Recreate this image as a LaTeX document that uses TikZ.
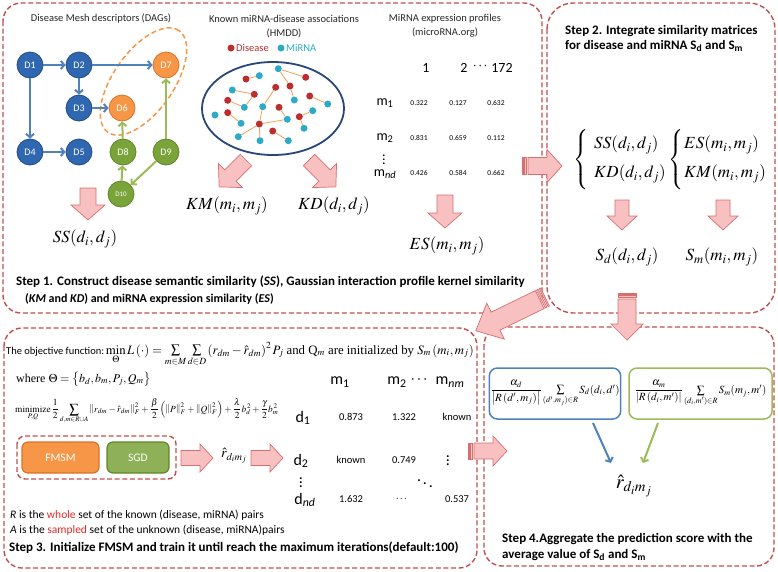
\documentclass[tikz,border=0pt]{standalone}
\usepackage{amsmath}
\usepackage{mathptmx}
\usepackage[no-math]{fontspec}
\setmainfont{Carlito}
\newfontfamily\tnr{Liberation Serif}
\usetikzlibrary{arrows.meta}
\definecolor{pred}{RGB}{192,80,77}
\definecolor{nblue}{RGB}{47,104,177}
\definecolor{nblueb}{RGB}{35,75,130}
\definecolor{norange}{RGB}{247,150,70}
\definecolor{noranged}{RGB}{215,115,45}
\definecolor{ngreen}{RGB}{122,163,58}
\definecolor{ngreend}{RGB}{95,135,40}
\definecolor{ablue}{RGB}{79,129,189}
\definecolor{agreen}{RGB}{155,187,89}
\definecolor{pinkf}{RGB}{248,192,192}
\definecolor{pinkd}{RGB}{214,112,112}
\definecolor{netred}{RGB}{190,45,45}
\definecolor{netteal}{RGB}{45,170,200}
\definecolor{netline}{RGB}{243,160,85}
\definecolor{netell}{RGB}{40,70,120}
\definecolor{wred}{RGB}{225,40,40}
\tikzset{
  panel/.style={draw=pred, dash pattern=on 5pt off 2.6pt, line width=1.4pt, rounded corners=18pt},
  ttl/.style={font=\fontsize{10.5}{12}\selectfont, text=black!85, inner sep=0pt},
  stp/.style={font=\bfseries\fontsize{13}{15}\selectfont, inner sep=0pt, anchor=west},
  mth/.style={font=\fontsize{17}{20}\selectfont, inner sep=0pt},
  dnode/.style={circle, minimum size=26pt, inner sep=0pt, text=white, font=\fontsize{10}{12}\selectfont, line width=0.8pt},
  dblue/.style={dnode, fill=nblue, draw=nblueb},
  dorange/.style={dnode, fill=norange, draw=noranged},
  dgreen/.style={dnode, fill=ngreen, draw=ngreend},
  barr/.style={draw=ablue, line width=2pt, -{Straight Barb[length=3.5pt,width=8pt]}},
  garr/.style={draw=agreen, line width=2pt, -{Straight Barb[length=3.5pt,width=8pt]}},
  ndot/.style={circle, minimum size=7pt, inner sep=0pt},
  rdot/.style={ndot, fill=netred},
  tdot/.style={ndot, fill=netteal},
  nl/.style={draw=netline, line width=0.8pt},
  hdr/.style={font=\fontsize{14}{16}\selectfont, inner sep=0pt},
  val/.style={font=\fontsize{7.5}{9}\selectfont, inner sep=0pt},
  big/.style={font=\fontsize{16}{18}\selectfont, inner sep=0pt},
  val3/.style={font=\fontsize{10.5}{12}\selectfont, inner sep=0pt},
  note/.style={anchor=west, inner sep=0pt, font=\fontsize{11.5}{13}\selectfont},
  pinkarr/.style={fill=pinkf, draw=pinkd, line width=0.7pt, line join=miter},
  pics/fatarr/.style n args={4}{code={
    \draw[pinkarr] (0,-#2) -- ({#1-#4},-#2) -- ({#1-#4},-#3) -- (#1,0) -- ({#1-#4},#3) -- ({#1-#4},#2) -- (0,#2) -- cycle;}},
  pics/striparr/.style n args={4}{code={
    \draw[pinkarr] (0,-#2) rectangle (1.5,#2);
    \draw[pinkarr] (2.8,-#2) rectangle (4.6,#2);
    \draw[pinkarr] (5.9,-#2) -- ({#1-#4},-#2) -- ({#1-#4},-#3) -- (#1,0) -- ({#1-#4},#3) -- ({#1-#4},#2) -- (5.9,#2) -- cycle;}},
  fbox/.style={rounded corners=6pt, line width=1.2pt, minimum width=77pt, minimum height=31pt, text=white, font=\fontsize{11.5}{13}\selectfont},
  sbox/.style={rounded corners=8pt, line width=1.5pt, fill=white, inner sep=1pt, font=\fontsize{11}{13}\selectfont},
}
\begin{document}
\begin{tikzpicture}[x=1pt,y=-1pt]
\useasboundingbox (0,0) rectangle (778,571);
% panels
\draw[panel] (3,3) rectangle (542,313);
\draw[panel, rounded corners=26pt] (547,3) rectangle (775,313);
\draw[panel] (4,328) rectangle (477,568);
\draw[panel] (484,327) rectangle (774,566);

% ---------- Panel 1 ----------
\node[ttl] (t1) at (101,19) {Disease Mesh descriptors (DAGs)};
\node[ttl] (t2) at (284,19) {Known miRNA-disease associations};
\node[ttl] (t2b) at (284,33) {(HMDD)};
\node[ttl] (t3) at (445,19) {MiRNA expression profiles};
\node[ttl] (t3b) at (445,33) {(microRNA.org)};

% DAG
\draw[draw=norange, line width=1.5pt, dash pattern=on 5pt off 3pt, rotate around={55:(143.5,81.5)}] (143.5,81.5) ellipse [x radius=62pt, y radius=30pt];
\node[dblue] (D1) at (30,65) {D1};
\node[dblue] (D2) at (79,65) {D2};
\node[dorange] (D7) at (166,65) {D7};
\node[dblue] (D3) at (79,108) {D3};
\node[dorange] (D6) at (122,108) {D6};
\node[dblue] (D4) at (30,152) {D4};
\node[dblue] (D5) at (79,152) {D5};
\node[dgreen] (D8) at (123,152) {D8};
\node[dgreen] (D9) at (166,152) {D9};
\node[dgreen, font=\fontsize{7}{8}\selectfont] (D10) at (121,194) {D10};
\draw[barr] (D1) -- (D2);
\draw[barr] (D1) -- (D4);
\draw[barr] (D2) -- (D3);
\draw[barr] (D2) -- (D7);
\draw[barr] (D3) -- (D6);
\draw[barr] (D4) -- (D5);
\draw[garr] (D8) -- (D6);
\draw[garr] (D9) -- (D7);
\draw[garr] (D10) -- (D8);
\draw[garr] (D9) -- (D10);

% legend
\node[rdot] (lg1) at (231,48) {};
\node[anchor=west, inner sep=0pt, text=netred, font=\fontsize{10.5}{12}\selectfont] (lg1t) at (236,48) {Disease};
\node[tdot] (lg2) at (281,48) {};
\node[anchor=west, inner sep=0pt, text=netteal, font=\fontsize{10.5}{12}\selectfont] (lg2t) at (286,48) {MiRNA};

% network
\draw[draw=netell, line width=1.8pt] (273,108.5) ellipse [x radius=71pt, y radius=46.5pt];
\node[rdot] (r1) at (246,79) {};
\node[rdot] (r2) at (305.7,77.3) {};
\node[rdot] (r3) at (254.3,94.3) {};
\node[rdot] (r4) at (275.7,87.3) {};
\node[rdot] (r5) at (290,86) {};
\node[rdot] (r6) at (227.7,100.3) {};
\node[rdot] (r7) at (279,107.3) {};
\node[rdot] (r8) at (309.7,96) {};
\node[rdot] (r9) at (227.7,112.7) {};
\node[rdot] (r10) at (259.3,124) {};
\node[rdot] (r11) at (299.3,116.7) {};
\node[rdot] (r12) at (272.7,131) {};
\node[tdot] (c1) at (259.3,75.7) {};
\node[tdot] (c2) at (278.3,68.7) {};
\node[tdot] (c3) at (232.3,90) {};
\node[tdot] (c4) at (294.3,100) {};
\node[tdot] (c5) at (244.3,107.3) {};
\node[tdot] (c6) at (262.7,106.7) {};
\node[tdot] (c7) at (215,115) {};
\node[tdot] (c8) at (241,123.3) {};
\node[tdot] (c9) at (287.3,119.3) {};
\node[tdot] (c10) at (312.7,110.7) {};
\node[tdot] (c11) at (327.7,104) {};
\node[tdot] (c12) at (304,128.3) {};
\node[tdot] (c13) at (238.3,136.7) {};
\node[tdot] (c14) at (260,140.7) {};
\node[tdot] (c15) at (288.3,140.7) {};
\draw[nl] (r1) -- (c1);
\draw[nl] (c2) -- (r5);
\draw[nl] (c2) -- (r2);
\draw[nl] (c3) -- (r3);
\draw[nl] (r3) -- (c5);
\draw[nl] (r4) -- (c6);
\draw[nl] (r5) -- (c4);
\draw[nl] (r6) -- (c5);
\draw[nl] (r8) -- (c11);
\draw[nl] (r9) -- (c8);
\draw[nl] (r10) -- (c6);
\draw[nl] (r10) -- (c9);
\draw[nl] (r10) -- (c13);
\draw[nl] (r10) -- (c14);
\draw[nl] (r11) -- (c10);
\draw[nl] (r11) -- (c12);
\draw[nl] (r12) -- (c15);
\draw[nl] (r7) -- (c9);

% expression matrix
\node[hdr] (h1) at (426,68) {1};
\node[hdr] (h2) at (464,68) {2};
\node[hdr] (hd) at (481,66) {$\cdots$};
\node[hdr] (h3) at (502,68) {172};
\node[hdr] (m1) at (385,103) {m\textsubscript{1}};
\node[hdr] (m2) at (385,138) {m\textsubscript{2}};
\node[hdr] (mv) at (384,157) {$\vdots$};
\node[hdr] (mn) at (385,174) {m\textsubscript{\textit{nd}}};
\node[val] at (419,103) {0.322};
\node[val] at (458,103) {0.127};
\node[val] at (496,103) {0.632};
\node[val] at (419,138) {0.831};
\node[val] at (458,138) {0.659};
\node[val] at (496,138) {0.112};
\node[val] at (419,173) {0.426};
\node[val] at (458,173) {0.584};
\node[val] at (496,173) {0.662};

% pink arrows panel 1
\pic[rotate=-90] at (88,188) {fatarr={32}{8}{17}{15}};
\pic[rotate=-135] at (246,160) {fatarr={38}{8}{17}{16}};
\pic[rotate=-45] at (309,160) {fatarr={38}{8}{17}{16}};
\pic[rotate=-90] at (445,195) {fatarr={33}{8}{17}{15}};
\node[mth] (ss1) at (85,239) {$SS(d_i,d_j)$};
\node[mth] (km1) at (227,206) {$KM(m_i,m_j)$};
\node[mth] (kd1) at (334,206) {$KD(d_i,d_j)$};
\node[mth] (es1) at (447,246) {$ES(m_i,m_j)$};

\node[stp] (s1a) at (16,282) {Step 1. Construct disease semantic similarity (\textit{SS}), Gaussian interaction profile kernel similarity};
\node[stp, font=\bfseries\fontsize{12}{14}\selectfont] (s1b) at (25,299) {(\textit{KM} and \textit{KD}) and miRNA expression similarity (\textit{ES})};

% ---------- Panel 2 ----------
\node[stp] (s2a) at (565,31) {Step 2. Integrate similarity matrices};
\node[stp] (s2b) at (565,46) {for disease and miRNA S\textsubscript{d} and S\textsubscript{m}};
\node[mth] (br1) at (582,160) {$\left\{\vrule height 27pt depth 27pt width 0pt\right.$};
\node[mth] (br2) at (677,160) {$\left\{\vrule height 27pt depth 27pt width 0pt\right.$};
\node[mth, anchor=west] (ss2) at (594,145) {$SS(d_i,d_j)$};
\node[mth, anchor=west] (kd2) at (594,174) {$KD(d_i,d_j)$};
\node[mth, anchor=west] (es2) at (684,145) {$ES(m_i,m_j)$};
\node[mth, anchor=west] (km2) at (684,174) {$KM(m_i,m_j)$};
\pic[rotate=-90] at (622,200) {fatarr={30}{7}{15}{14}};
\pic[rotate=-90] at (723,200) {fatarr={30}{7}{15}{14}};
\node[mth] (sd2) at (627,257) {$S_d(d_i,d_j)$};
\node[mth] (sm2) at (722,257) {$S_m(m_i,m_j)$};

% ---------- Panel 3 ----------
\node[anchor=base west, inner sep=0pt] (obj) at (6,354) {\fontsize{10.5}{12}\selectfont The objective function:\,\fontsize{12.8}{14}\selectfont$\min\limits_{\Theta}L\left(\cdot\right)=\sum\limits_{m\in M}\sum\limits_{d\in D}\left(r_{dm}-\hat{r}_{dm}\right)^{2}P_j$ {\tnr and Q$_m$ are initialized by }$S_m\left(m_i,m_j\right)$};
\node[anchor=base west, inner sep=0pt, font=\fontsize{12}{14}\selectfont] (whr) at (16,382) {\tnr where $\Theta=\left\{b_d,b_m,P_j,Q_m\right\}$};
\node[anchor=base west, inner sep=0pt, font=\fontsize{9.4}{11}\selectfont] (mnz) at (15,412) {$\displaystyle\mathop{\mathrm{minimize}}\limits_{P,Q}\frac{1}{2}\sum\limits_{d,m\in R\cup A}\left\|r_{dm}-\hat{r}_{dm}\right\|_F^2+\frac{\beta}{2}\left(\left\|P\right\|_F^2+\left\|Q\right\|_F^2\right)+\frac{\lambda}{2}b_d^{\,2}+\frac{\gamma}{2}b_m^{\,2}$};

% matrix
\node[big] (mm1) at (340,382) {m\textsubscript{1}};
\node[big] (mm2) at (397,382) {m\textsubscript{2}};
\node[big] (mmd) at (420,380) {$\cdots$};
\node[big] (mmn) at (450,382) {m\textsubscript{\textit{nm}}};
\node[big] (dd1) at (303,418) {d\textsubscript{1}};
\node[big] (dd2) at (301,461) {d\textsubscript{2}};
\node[big] (ddv) at (301,480) {$\vdots$};
\node[big] (ddn) at (305,500) {d\textsubscript{\textit{nd}}};
\node[val3] at (351,417) {0.873};
\node[val3] at (404,417) {1.322};
\node[val3] at (457,417) {known};
\node[val3] at (351,460) {known};
\node[val3] at (404,460) {0.749};
\node[big] at (448,458) {$\vdots$};
\node[big] at (425,481) {$\ddots$};
\node[val3] at (351,499) {1.632};
\node[val3] at (402,499) {$\cdots$};
\node[val3] at (457,499) {0.537};

% FMSM / SGD
\draw[draw=pred, dash pattern=on 5pt off 2.6pt, line width=1.4pt, rounded corners=8pt] (17,436) rectangle (176,479);
\node[fbox, fill=norange, draw=noranged] (fmsm) at (60.5,457.5) {FMSM};
\node[fbox, fill=ngreen!85!white, draw=ngreend, minimum width=62pt] (sgd) at (138,457.5) {SGD};
\pic at (181,458) {fatarr={32}{7.5}{14}{13}};
\node[font=\fontsize{14}{16}\selectfont, inner sep=0pt] (rh3) at (234,456) {$\hat{r}_{d_i m_j}$};
\pic at (251,458) {fatarr={32}{7.5}{14}{13}};

\node[note] (rl) at (10,515) {\textit{R} is the \textcolor{wred}{whole} set of the known (disease, miRNA) pairs};
\node[note] (al) at (10,530) {\textit{A} is the \textcolor{wred}{sampled} set of the unknown (disease, miRNA)pairs};
\node[stp] (s3) at (9,548) {Step 3. Initialize FMSM and train it until reach the maximum iterations(default:100)};

% ---------- Panel 4 ----------
\node[sbox, draw=ablue, minimum width=130pt, minimum height=51pt] (bb) at (555,393.5) {$\dfrac{\alpha_d}{\left|R\left(d',m_j\right)\right|}\sum\limits_{(d',m_j)\in R}S_d(d_i,d')$};
\node[sbox, draw=agreen, minimum width=143pt, minimum height=51pt] (gb) at (700.5,393.5) {$\dfrac{\alpha_m}{\left|R\left(d_i,m'\right)\right|}\sum\limits_{(d_i,m')\in R}S_m(m_j,m')$};
\node[font=\fontsize{20}{22}\selectfont, inner sep=0pt] (rh4) at (634,486) {$\hat{r}_{d_i m_j}$};
\coordinate (ba) at (593,423);
\coordinate (bt) at (611,463);
\coordinate (ga) at (658,423);
\coordinate (gt) at (643,463);
\draw[barr] (ba) -- (bt);
\draw[garr] (ga) -- (gt);
\node[stp] (s4a) at (502,539) {Step 4.Aggregate the prediction score with the};
\node[stp] (s4b) at (502,555) {average value of S\textsubscript{d} and S\textsubscript{m}};

% ---------- big transition arrows ----------
\pic at (522,166) {striparr={40}{8.5}{16.5}{15}};
\pic[rotate=-154] at (545,297) {striparr={77}{10}{20}{22}};
\pic[rotate=-90] at (627,293) {striparr={47}{9}{16}{16}};
\pic at (468,451) {striparr={39}{8}{15}{14}};
\end{tikzpicture}
\end{document}
